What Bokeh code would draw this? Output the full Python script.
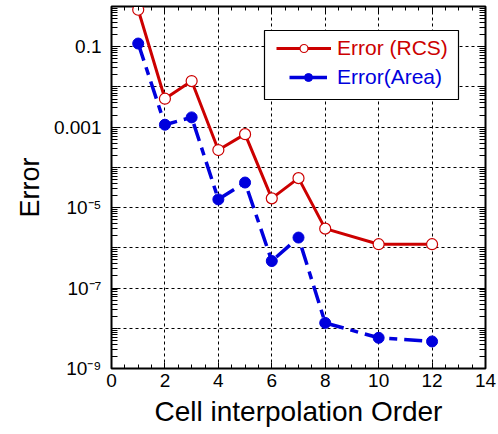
from bokeh.plotting import figure
from bokeh.models import (FixedTicker, LogAxis, LinearAxis, Legend, LegendItem,
                          BoxAnnotation, Range1d, CustomJSTickFormatter)
from bokeh.embed import file_html
from bokeh.resources import INLINE

# ---- data ----
order = [1, 2, 3, 4, 5, 6, 7, 8, 10, 12]
err_rcs = [0.83, 5.1e-3, 0.014, 2.7e-4, 6.7e-4, 1.7e-5, 5.4e-5, 3.0e-6, 1.23e-6, 1.23e-6]
err_area = [0.12, 1.15e-3, 1.75e-3, 1.6e-5, 4.2e-5, 4.7e-7, 1.8e-6, 1.36e-8, 5.8e-9, 4.7e-9]

x_ticks = [0, 2, 4, 6, 8, 10, 12, 14]
y_label_ticks = [1e-9, 1e-7, 1e-5, 1e-3, 1e-1]
y_tick_labels = ["10\u207b\u2079", "10\u207b\u2077", "10\u207b\u2075", "0.001", "0.1"]
decades = [1e-9, 1e-8, 1e-7, 1e-6, 1e-5, 1e-4, 1e-3, 1e-2, 1e-1, 1e0]

FONT = "Liberation Sans"
RED = "#cc0000"
BLUE = "#0000dd"

p = figure(width=498, height=434, y_axis_type="log",
           x_range=Range1d(0, 14), y_range=Range1d(1e-9, 1),
           output_backend="svg", toolbar_location=None,
           min_border_left=111, min_border_right=13, min_border_top=6,
           min_border_bottom=66)

p.outline_line_color = "black"
p.outline_line_width = 2

# ticks
x_minor = [t / 2 for t in range(0, 29) if t % 4 != 0]
y_minor = [k * d for d in decades[:-1] for k in range(1, 10)
           if (k * d) not in y_label_ticks]
xt = FixedTicker(ticks=x_ticks, minor_ticks=x_minor)
yt = FixedTicker(ticks=y_label_ticks, minor_ticks=y_minor)

for ax in p.xaxis:
    ax.ticker = xt
for ax in p.yaxis:
    ax.ticker = yt
    ax.major_label_overrides = dict(zip(y_label_ticks, y_tick_labels))

def style_axis(ax, maj=6, mnr=4):
    ax.major_tick_in = maj
    ax.major_tick_out = 0
    ax.minor_tick_in = mnr
    ax.minor_tick_out = 0
    ax.axis_line_color = "black"
    ax.axis_line_width = 1
    ax.major_tick_line_color = "black"
    ax.minor_tick_line_color = "black"
    ax.major_label_text_font = FONT
    ax.major_label_text_font_size = "19px"
    ax.major_label_text_color = "black"
    ax.axis_label_text_font = FONT
    ax.axis_label_text_font_style = "normal"
    ax.axis_label_text_color = "black"

style_axis(p.xaxis[0], maj=6, mnr=4)
style_axis(p.yaxis[0], maj=8, mnr=6)
p.xaxis[0].axis_label = "Cell interpolation Order"
p.xaxis[0].axis_label_text_font_size = "28px"
p.xaxis[0].axis_label_standoff = 6
p.xaxis[0].major_label_standoff = 5
p.yaxis[0].axis_label = "Error"
p.yaxis[0].axis_label_text_font_size = "27px"
p.yaxis[0].axis_label_standoff = 6
p.yaxis[0].major_label_standoff = 10

blank = CustomJSTickFormatter(code="return '';")
top_ax = LinearAxis(ticker=xt, formatter=blank)
style_axis(top_ax, maj=6, mnr=4)
top_ax.major_label_standoff = 0
p.add_layout(top_ax, "above")
right_ax = LogAxis(ticker=yt, formatter=blank)
style_axis(right_ax, maj=8, mnr=6)
right_ax.major_label_standoff = 0
p.add_layout(right_ax, "right")

# grid
p.xgrid.ticker = xt
p.ygrid.ticker = FixedTicker(ticks=decades)
for g in (p.xgrid[0], p.ygrid[0]):
    g.grid_line_color = "black"
    g.grid_line_dash = "3 3"
    g.grid_line_width = 1

# series
r_line = p.line(order, err_rcs, line_color=RED, line_width=3)
r_mark = p.scatter(order, err_rcs, marker="circle", size=11, fill_color="white",
                   line_color=RED, line_width=1.2)
b_line = p.line(order, err_area, line_color=BLUE, line_width=3.5, line_dash="18 7 8 7")
b_mark = p.scatter(order, err_area, marker="circle", size=11, fill_color=BLUE,
                   line_color=BLUE)
# hidden solid copy used only for the legend sample
b_key = p.line(order, err_area, line_color=BLUE, line_width=3.5, visible=False)

# legend box
box = BoxAnnotation(left=153, right=347, top=338, bottom=269,
                    left_units="screen", right_units="screen",
                    top_units="screen", bottom_units="screen",
                    fill_color="white", fill_alpha=1.0,
                    line_color="black", line_width=1.2, line_alpha=1.0)
p.add_layout(box)

leg_r = Legend(items=[LegendItem(label="Error (RCS)", renderers=[r_line, r_mark])],
               location=(165, 308), padding=0, margin=0, spacing=0,
               glyph_width=55, glyph_height=20, label_height=20, label_standoff=6,
               border_line_alpha=0, background_fill_alpha=0,
               label_text_font=FONT, label_text_font_size="21px",
               label_text_color=RED)
leg_b = Legend(items=[LegendItem(label="Error(Area)", renderers=[b_key, b_mark])],
               location=(178, 279), padding=0, margin=0, spacing=0,
               glyph_width=38, glyph_height=20, label_height=20, label_standoff=10,
               border_line_alpha=0, background_fill_alpha=0,
               inactive_fill_alpha=0,
               label_text_font=FONT, label_text_font_size="21px",
               label_text_color=BLUE)
p.add_layout(leg_r)
p.add_layout(leg_b)

open("out.html", "w").write(file_html(p, INLINE))
